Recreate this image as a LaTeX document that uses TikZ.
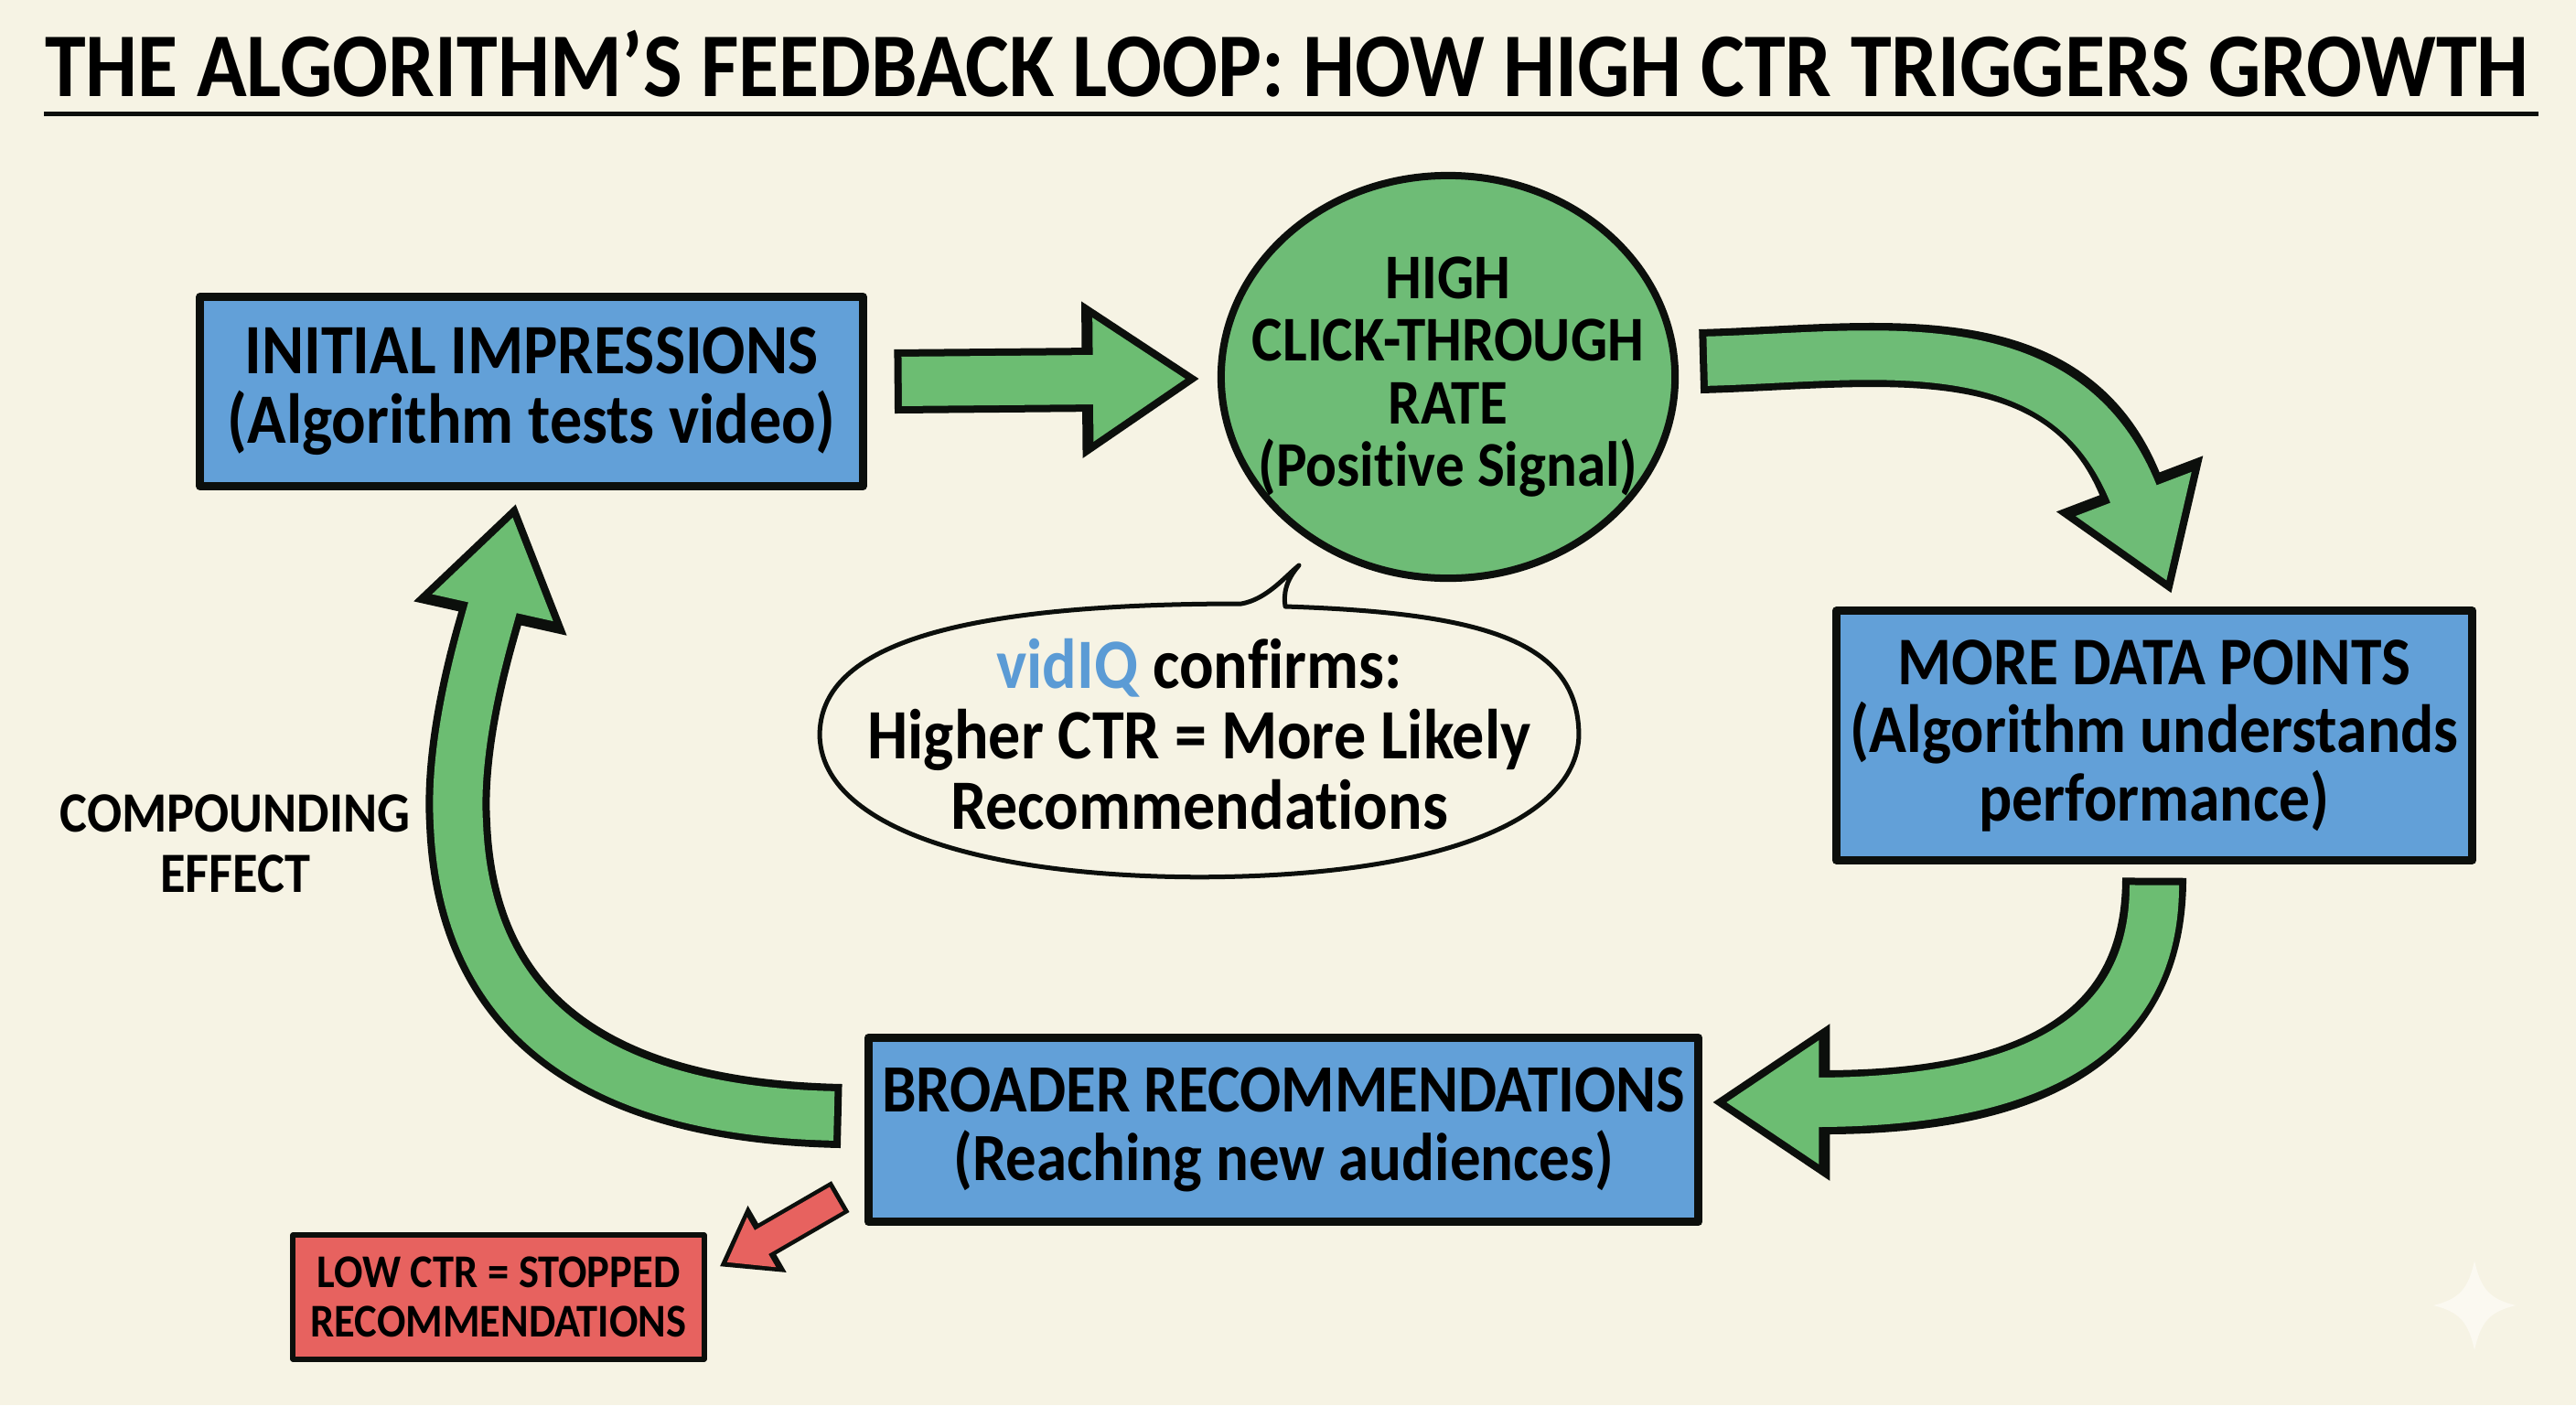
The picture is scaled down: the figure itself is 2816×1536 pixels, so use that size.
\documentclass[tikz,border=0pt]{standalone}
\usepackage{fontspec}
\setmainfont{Carlito}[Ligatures=NoCommon,FakeStretch=0.906]
\usetikzlibrary{arrows.meta,shapes.geometric}
\definecolor{paper}{HTML}{F6F3E4}
\definecolor{ink}{HTML}{0C0F0C}
\definecolor{boxblue}{HTML}{62A0D8}
\definecolor{boxgreen}{HTML}{6EBC76}
\definecolor{arrowgreen}{HTML}{6CBD72}
\definecolor{boxred}{HTML}{E7625F}
\definecolor{vidblue}{HTML}{5B9BD5}
\definecolor{sparkle}{HTML}{FBF9F1}

\begin{document}
\begin{tikzpicture}[x=0.01cm,y=-0.01cm,line join=round,
  bluebox/.style={draw=ink,fill=boxblue,line width=0.09cm,inner sep=0pt,align=center,font=\bfseries\fontsize{22}{21.6}\selectfont},
  signal/.style={ellipse,draw=ink,fill=boxgreen,line width=0.08cm,inner sep=-1cm,align=center,font=\bfseries\fontsize{19.8}{19.4}\selectfont},
  speech/.style={inner sep=0pt,align=center,font=\bfseries\fontsize{22}{21.9}\selectfont},
  stopbox/.style={draw=ink,fill=boxred,line width=0.06cm,inner sep=0pt,align=center,font=\bfseries\fontsize{14.6}{15.3}\selectfont},
  sidenote/.style={align=center,font=\bfseries\fontsize{17.7}{18.8}\selectfont},
  greenarrow/.style={draw=ink,line width=0.7cm,-{Triangle[length=1.29cm,width=1.62cm]},
    postaction={draw=#1,line width=0.54cm,shorten >=0.15cm,shorten <=0.08cm,-{Triangle[length=1.02cm,width=1.28cm]}}},
  greenarrow/.default=arrowgreen,
  redarrow/.style={draw=ink,line width=0.39cm,-{Triangle[length=0.6cm,width=0.8cm]},
    postaction={draw=boxred,line width=0.3cm,shorten >=0.09cm,shorten <=0.05cm,-{Triangle[length=0.44cm,width=0.6cm]}}}]

\path[use as bounding box,fill=paper] (0,0) rectangle (2816,1536);

%title
\node[font=\bfseries\fontsize{28.3}{28}\selectfont] (title) at (1407,70) {THE ALGORITHM’S FEEDBACK LOOP: HOW HIGH CTR TRIGGERS GROWTH};
\coordinate (rulestart) at (48,124);
\coordinate (ruleend) at (2775,124);
\draw[ink,line width=0.05cm] (rulestart) -- (ruleend);

%boxes
\node[bluebox,minimum width=7.24cm,minimum height=2.07cm] (initial) at (581,428) {INITIAL IMPRESSIONS\\(Algorithm tests video)};
\node[signal,minimum width=4.96cm,minimum height=4.4cm] (rate) at (1583,412) {HIGH\\CLICK-THROUGH\\RATE\\(Positive Signal)};
\node[bluebox,minimum width=6.95cm,minimum height=2.72cm,font=\bfseries\fontsize{21.2}{21.2}\selectfont] (points) at (2355,804) {MORE DATA POINTS\\(Algorithm understands\\performance)};
\node[bluebox,minimum width=9.07cm,minimum height=2.01cm,font=\bfseries\fontsize{21}{21.4}\selectfont] (broader) at (1403,1235) {BROADER RECOMMENDATIONS\\(Reaching new audiences)};
\node[stopbox,minimum width=4.49cm,minimum height=1.35cm] (stopped) at (545,1418) {LOW CTR = STOPPED\\RECOMMENDATIONS};
\node[speech,minimum width=8.28cm,minimum height=3.1cm] (confirms) at (1311,803) {\textcolor{vidblue}{vidIQ} confirms:\\Higher CTR = More Likely\\Recommendations};
\node[sidenote] (compounding) at (257,922) {COMPOUNDING\\EFFECT};

%speech bubble outline
\draw[ink,line width=0.05cm] (confirms.west) .. controls (897,710) and (1030,660) .. (1357,660)
  .. controls (1385,655) and (1405,630) .. (1420,618) .. controls (1405,635) and (1403,650) .. (1405,663)
  .. controls (1620,670) and (1725,700) .. (confirms.east)
  .. controls (1725,890) and (1590,958) .. (confirms.south)
  .. controls (1060,958) and (897,900) .. cycle;

%arrows
\draw[greenarrow] ([shift={(30,-11)}]initial.east) -- ([shift={(-19,2)}]rate.west);
\draw[greenarrow=boxgreen] ([shift={(23,-17)}]rate.east) .. controls (2050,390) and (2260,350) .. ([shift={(19,-14)}]points.north);
\draw[greenarrow] ([shift={(0,15)}]points.south) .. controls (2355,1100) and (2270,1205) .. ([shift={(10,-30)}]broader.east);
\draw[greenarrow] ([shift={(-25,-15)}]broader.west) .. controls (680,1215) and (510,1130) .. (501,900) .. controls (495,800) and (535,680) .. ([shift={(-17,14)}]initial.south);
\draw[redarrow] ([shift={(-26,-32)}]broader.south west) -- ([shift={(14,37)}]stopped.north east);

%sparkle
\fill[sparkle] (2705,1378) .. controls (2712,1410) and (2722,1420) .. (2750,1427) .. controls (2722,1434) and (2712,1444) .. (2705,1476) .. controls (2698,1444) and (2688,1434) .. (2660,1427) .. controls (2688,1420) and (2698,1410) .. (2705,1378);
\end{tikzpicture}
\end{document}
